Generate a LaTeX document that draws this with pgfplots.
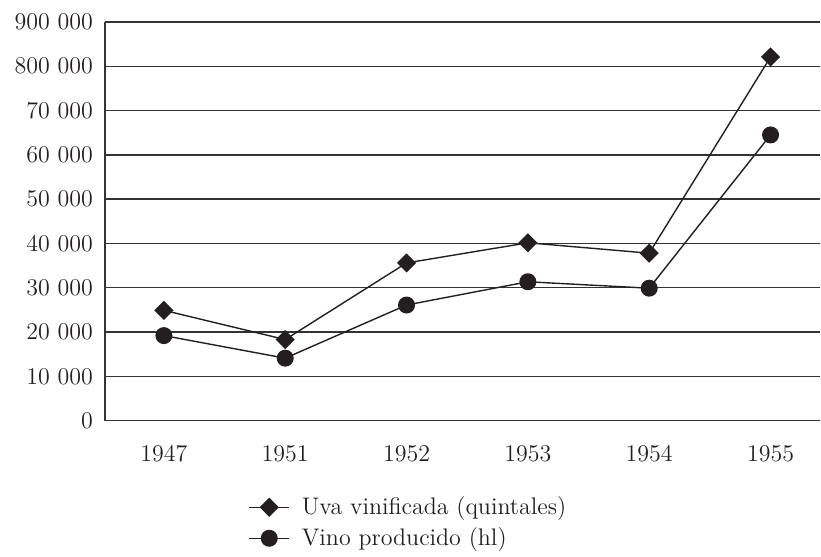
\documentclass[border=0pt]{standalone}
\usepackage{pgfplots}
\pgfplotsset{compat=1.18}
\definecolor{ink}{HTML}{231F20}
\definecolor{gridc}{HTML}{333333}
\begin{document}
\begin{tikzpicture}
\begin{axis}[
  at={(0,0)}, anchor=south west,
  scale only axis, width=358pt, height=199.5pt,
  xmin=-0.486, xmax=5.41,
  ymin=0, ymax=90000,
  xtick={0,1,2,3,4,5},
  xticklabels={1947,1951,1952,1953,1954,1955},
  ytick={0,10000,20000,30000,40000,50000,60000,70000,80000,90000},
  yticklabels={0,10 000,20 000,30 000,40 000,50 000,60 000,70 000,800 000,900 000},
  major tick length=0pt,
  axis x line*=bottom, axis y line*=left,
  axis line style={gridc, line width=0.7pt},
  ymajorgrids, grid style={gridc, line width=0.7pt},
  tick label style={font=\fontsize{12}{14}\selectfont, text=ink},
  xticklabel style={yshift=-9pt},
  yticklabel style={xshift=-2.5pt},
  scaled y ticks=false,
  clip=false,
  legend style={draw=none, fill=none, at={(0.192,-0.17)}, anchor=north west,
    font=\fontsize{12}{14}\selectfont, text=ink, row sep=1pt, column sep=4pt,
    legend cell align=left},
  legend image code/.code={
    \draw[#1, mark repeat=2, mark phase=2] plot coordinates {(0cm,0cm) (0.35cm,0cm) (0.7cm,0cm)};},
]
\addplot[ink, line width=0.7pt, mark=diamond*, mark size=4.3pt, mark options={xscale=1.33}]
  coordinates {(0,24900) (1,18300) (2,35600) (3,40150) (4,37800) (5,82100)};
\addlegendentry{Uva vinificada (quintales)}
\addplot[ink, line width=0.7pt, mark=*, mark size=3.9pt]
  coordinates {(0,19200) (1,14100) (2,26100) (3,31350) (4,29900) (5,64500)};
\addlegendentry{Vino producido (hl)}
\end{axis}
\useasboundingbox (-52.5pt,-64.5pt) rectangle (358pt,210.5pt);
\end{tikzpicture}
\end{document}
